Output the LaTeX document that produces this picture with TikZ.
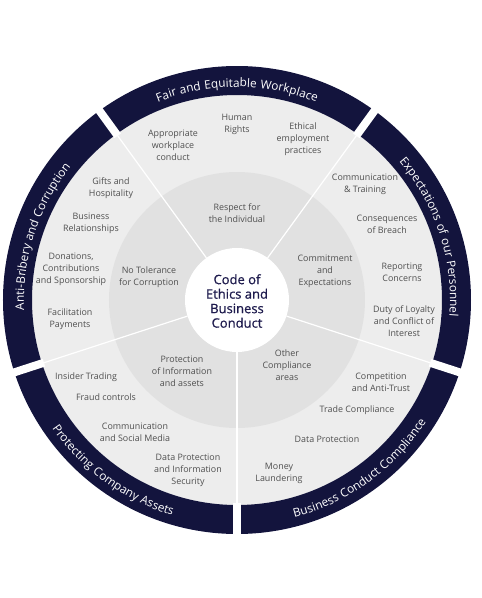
\documentclass[tikz,border=0pt]{standalone}
\usepackage{fontspec}
\setmainfont{Open Sans}
\newfontfamily\medfont{Open Sans}[FakeBold=0.6]
\newfontfamily\bandfam{Open Sans}[LetterSpace=5]
\usetikzlibrary{decorations.text}
\definecolor{navy}{RGB}{19,20,61}
\definecolor{lightring}{RGB}{237,237,237}
\definecolor{innerring}{RGB}{225,225,225}
\definecolor{itemgray}{RGB}{80,80,80}
\definecolor{centernavy}{RGB}{30,27,77}
\newcommand\bandfnt{\color{white}\bandfam\fontsize{11.8}{13}\selectfont}
\begin{document}
\begin{tikzpicture}[x=1pt,y=1pt,
  item/.style={font=\fontsize{8.9}{12}\selectfont, text=itemgray, align=center, inner sep=0pt},
  bandtext/.style={decorate, decoration={text along path, text align=center}},
  sepline/.style={white, line width=1.2pt},
  gapline/.style={white, line width=8pt}]
\useasboundingbox (-237,-298) rectangle (245,300);
% rings
\fill[lightring] (0,0) circle[radius=205pt];
\fill[navy, even odd rule] (0,0) circle[radius=234pt] (0,0) circle[radius=205pt];
\fill[innerring] (0,0) circle[radius=128pt];
% separators and gaps
\foreach \a in {54,126,198,270,342}{
  \draw[sepline] (\a:52pt) -- (\a:205pt);
  \draw[gapline] (\a:203pt) -- (\a:238pt);
}
\fill[white] (0,0) circle[radius=52pt];
% band labels
\path[bandtext, decoration={text={|\bandfnt|Fair and Equitable Workplace}}]
  (130:213pt) arc[start angle=130, end angle=50, radius=213pt];
\path[bandtext, decoration={text={|\bandfnt|Expectations of our Personnel}}]
  (58:213pt) arc[start angle=58, end angle=-22, radius=213pt];
\path[bandtext, decoration={text={|\bandfnt|Anti-Bribery and Corruption}}]
  (202:213pt) arc[start angle=202, end angle=122, radius=213pt];
\path[bandtext, decoration={text={|\bandfnt|Protecting Company Assets}}]
  (194:225pt) arc[start angle=194, end angle=274, radius=225pt];
\path[bandtext, decoration={text={|\bandfnt|Business Conduct Compliance}}]
  (266:225pt) arc[start angle=266, end angle=346, radius=225pt];
% center
\node[font=\medfont\fontsize{13}{14.5}\selectfont, text=centernavy, align=center, inner sep=0pt] (core) at (0,-1) {Code of\\Ethics and\\Business\\Conduct};
% top sector
\node[item] (appr) at (-64,155) {Appropriate\\workplace\\conduct};
\node[item] (human) at (0,176) {Human\\Rights};
\node[item] (ethical) at (66,161) {Ethical\\employment\\practices};
\node[item] (respect) at (0,87) {Respect for\\the Individual};
% upper right
\node[item] (commtr) at (128,116) {Communication\\\& Training};
\node[item] (conseq) at (150,76) {Consequences\\of Breach};
\node[item] (report) at (165,28) {Reporting\\Concerns};
\node[item] (duty) at (167,-21) {Duty of Loyalty\\and Conflict of\\Interest};
\node[item] (commit) at (88,29) {Commitment\\and\\Expectations};
% upper left
\node[item] (gifts) at (-126,112) {Gifts and\\Hospitality};
\node[item] (busrel) at (-146,77) {Business\\Relationships};
\node[item] (donat) at (-166,31) {Donations,\\Contributions\\and Sponsorship};
\node[item] (facil) at (-167,-19) {Facilitation\\Payments};
\node[item] (notol) at (-88,23) {No Tolerance\\for Corruption};
% lower left
\node[item] (insider) at (-151,-77) {Insider Trading};
\node[item] (fraud) at (-131,-97) {Fraud controls};
\node[item] (commsoc) at (-102,-132) {Communication\\and Social Media};
\node[item] (dataprot) at (-49,-170) {Data Protection\\and Information\\Security};
\node[item] (protinfo) at (-55,-71) {Protection\\of Information\\and assets};
% lower right
\node[item] (other) at (50,-65) {Other\\Compliance\\areas};
\node[item] (compet) at (144,-82) {Competition\\and Anti-Trust};
\node[item] (trade) at (120,-110) {Trade Compliance};
\node[item] (dataprotb) at (90,-139) {Data Protection};
\node[item] (money) at (42,-173) {Money\\Laundering};
\end{tikzpicture}
\end{document}
